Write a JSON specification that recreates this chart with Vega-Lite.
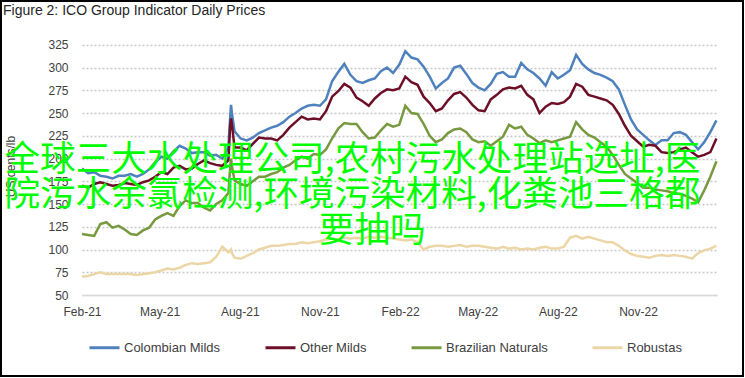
{
  "$schema": "https://vega.github.io/schema/vega-lite/v6.json",
  "width": 742,
  "height": 375,
  "autosize": {"type": "none"},
  "padding": {"left": 1, "top": 1, "right": 1, "bottom": 1},
  "background": "white",
  "title": {"text": "Figure 2: ICO Group Indicator Daily Prices", "anchor": "start", "frame": "group", "orient": "top", "offset": -28, "baseline": "alphabetic", "dx": 2, "font": "Liberation Sans", "fontSize": 14, "fontWeight": "normal", "color": "#262626"},
  "config": {"view": {"stroke": "#000000", "strokeWidth": 2}},
  "datasets": {
    "prices": [
      {"date":"2021-02-01","Colombian Milds":189,"Other Milds":170,"Brazilian Naturals":117,"Robustas":70},
      {"date":"2021-02-08","Colombian Milds":184,"Other Milds":168,"Brazilian Naturals":116,"Robustas":71},
      {"date":"2021-02-15","Colombian Milds":185,"Other Milds":172,"Brazilian Naturals":115,"Robustas":73},
      {"date":"2021-02-22","Colombian Milds":181,"Other Milds":174,"Brazilian Naturals":128,"Robustas":75},
      {"date":"2021-03-01","Colombian Milds":180,"Other Milds":172,"Brazilian Naturals":130,"Robustas":73},
      {"date":"2021-03-08","Colombian Milds":178,"Other Milds":170,"Brazilian Naturals":124,"Robustas":73},
      {"date":"2021-03-15","Colombian Milds":181,"Other Milds":171,"Brazilian Naturals":126,"Robustas":73},
      {"date":"2021-03-22","Colombian Milds":181,"Other Milds":173,"Brazilian Naturals":122,"Robustas":73},
      {"date":"2021-03-29","Colombian Milds":183,"Other Milds":172,"Brazilian Naturals":117,"Robustas":73},
      {"date":"2021-04-05","Colombian Milds":180,"Other Milds":171,"Brazilian Naturals":116,"Robustas":72},
      {"date":"2021-04-12","Colombian Milds":183,"Other Milds":174,"Brazilian Naturals":121,"Robustas":73},
      {"date":"2021-04-19","Colombian Milds":188,"Other Milds":176,"Brazilian Naturals":124,"Robustas":74},
      {"date":"2021-04-26","Colombian Milds":196,"Other Milds":180,"Brazilian Naturals":133,"Robustas":75},
      {"date":"2021-05-03","Colombian Milds":202,"Other Milds":185,"Brazilian Naturals":137,"Robustas":77},
      {"date":"2021-05-10","Colombian Milds":200,"Other Milds":183,"Brazilian Naturals":140,"Robustas":79},
      {"date":"2021-05-17","Colombian Milds":208,"Other Milds":190,"Brazilian Naturals":137,"Robustas":78},
      {"date":"2021-05-24","Colombian Milds":214,"Other Milds":192,"Brazilian Naturals":148,"Robustas":80},
      {"date":"2021-05-31","Colombian Milds":211,"Other Milds":188,"Brazilian Naturals":154,"Robustas":83},
      {"date":"2021-06-07","Colombian Milds":206,"Other Milds":189,"Brazilian Naturals":151,"Robustas":85},
      {"date":"2021-06-14","Colombian Milds":207,"Other Milds":194,"Brazilian Naturals":151,"Robustas":84},
      {"date":"2021-06-21","Colombian Milds":207,"Other Milds":198,"Brazilian Naturals":146,"Robustas":85},
      {"date":"2021-06-28","Colombian Milds":203,"Other Milds":195,"Brazilian Naturals":143,"Robustas":86},
      {"date":"2021-07-05","Colombian Milds":204,"Other Milds":193,"Brazilian Naturals":150,"Robustas":92},
      {"date":"2021-07-12","Colombian Milds":200,"Other Milds":192,"Brazilian Naturals":154,"Robustas":103},
      {"date":"2021-07-19","Colombian Milds":212,"Other Milds":198,"Brazilian Naturals":162,"Robustas":97},
      {"date":"2021-07-21","Colombian Milds":245,"Other Milds":236,"Brazilian Naturals":190,"Robustas":99},
      {"date":"2021-07-22","Colombian Milds":259,"Other Milds":244,"Brazilian Naturals":200,"Robustas":100},
      {"date":"2021-07-23","Colombian Milds":250,"Other Milds":238,"Brazilian Naturals":192,"Robustas":96},
      {"date":"2021-07-26","Colombian Milds":230,"Other Milds":212,"Brazilian Naturals":176,"Robustas":91},
      {"date":"2021-08-02","Colombian Milds":222,"Other Milds":212,"Brazilian Naturals":172,"Robustas":90},
      {"date":"2021-08-09","Colombian Milds":220,"Other Milds":209,"Brazilian Naturals":170,"Robustas":93},
      {"date":"2021-08-16","Colombian Milds":223,"Other Milds":216,"Brazilian Naturals":175,"Robustas":96},
      {"date":"2021-08-23","Colombian Milds":228,"Other Milds":223,"Brazilian Naturals":180,"Robustas":100},
      {"date":"2021-08-30","Colombian Milds":231,"Other Milds":222,"Brazilian Naturals":180,"Robustas":102},
      {"date":"2021-09-06","Colombian Milds":234,"Other Milds":222,"Brazilian Naturals":183,"Robustas":104},
      {"date":"2021-09-13","Colombian Milds":236,"Other Milds":220,"Brazilian Naturals":185,"Robustas":104},
      {"date":"2021-09-20","Colombian Milds":240,"Other Milds":226,"Brazilian Naturals":190,"Robustas":105},
      {"date":"2021-09-27","Colombian Milds":246,"Other Milds":234,"Brazilian Naturals":193,"Robustas":106},
      {"date":"2021-10-04","Colombian Milds":250,"Other Milds":240,"Brazilian Naturals":198,"Robustas":106},
      {"date":"2021-10-11","Colombian Milds":255,"Other Milds":246,"Brazilian Naturals":202,"Robustas":108},
      {"date":"2021-10-18","Colombian Milds":258,"Other Milds":243,"Brazilian Naturals":200,"Robustas":107},
      {"date":"2021-10-25","Colombian Milds":259,"Other Milds":244,"Brazilian Naturals":205,"Robustas":108},
      {"date":"2021-11-01","Colombian Milds":258,"Other Milds":243,"Brazilian Naturals":204,"Robustas":109},
      {"date":"2021-11-08","Colombian Milds":265,"Other Milds":252,"Brazilian Naturals":210,"Robustas":111},
      {"date":"2021-11-15","Colombian Milds":285,"Other Milds":268,"Brazilian Naturals":222,"Robustas":112},
      {"date":"2021-11-22","Colombian Milds":295,"Other Milds":274,"Brazilian Naturals":233,"Robustas":111},
      {"date":"2021-11-29","Colombian Milds":304,"Other Milds":282,"Brazilian Naturals":239,"Robustas":113},
      {"date":"2021-12-06","Colombian Milds":292,"Other Milds":278,"Brazilian Naturals":238,"Robustas":112},
      {"date":"2021-12-13","Colombian Milds":285,"Other Milds":267,"Brazilian Naturals":238,"Robustas":113},
      {"date":"2021-12-20","Colombian Milds":283,"Other Milds":263,"Brazilian Naturals":229,"Robustas":112},
      {"date":"2021-12-27","Colombian Milds":286,"Other Milds":258,"Brazilian Naturals":222,"Robustas":114},
      {"date":"2022-01-03","Colombian Milds":288,"Other Milds":266,"Brazilian Naturals":223,"Robustas":113},
      {"date":"2022-01-10","Colombian Milds":296,"Other Milds":272,"Brazilian Naturals":231,"Robustas":114},
      {"date":"2022-01-17","Colombian Milds":300,"Other Milds":276,"Brazilian Naturals":238,"Robustas":113},
      {"date":"2022-01-24","Colombian Milds":294,"Other Milds":275,"Brazilian Naturals":235,"Robustas":112},
      {"date":"2022-01-31","Colombian Milds":303,"Other Milds":277,"Brazilian Naturals":237,"Robustas":111},
      {"date":"2022-02-07","Colombian Milds":318,"Other Milds":290,"Brazilian Naturals":258,"Robustas":110},
      {"date":"2022-02-14","Colombian Milds":311,"Other Milds":284,"Brazilian Naturals":250,"Robustas":111},
      {"date":"2022-02-21","Colombian Milds":309,"Other Milds":281,"Brazilian Naturals":249,"Robustas":108},
      {"date":"2022-02-28","Colombian Milds":301,"Other Milds":268,"Brazilian Naturals":238,"Robustas":100},
      {"date":"2022-03-07","Colombian Milds":290,"Other Milds":261,"Brazilian Naturals":225,"Robustas":103},
      {"date":"2022-03-14","Colombian Milds":277,"Other Milds":252,"Brazilian Naturals":218,"Robustas":104},
      {"date":"2022-03-21","Colombian Milds":283,"Other Milds":255,"Brazilian Naturals":221,"Robustas":104},
      {"date":"2022-03-28","Colombian Milds":288,"Other Milds":264,"Brazilian Naturals":228,"Robustas":103},
      {"date":"2022-04-04","Colombian Milds":300,"Other Milds":271,"Brazilian Naturals":232,"Robustas":104},
      {"date":"2022-04-11","Colombian Milds":302,"Other Milds":273,"Brazilian Naturals":233,"Robustas":105},
      {"date":"2022-04-18","Colombian Milds":293,"Other Milds":267,"Brazilian Naturals":229,"Robustas":103},
      {"date":"2022-04-25","Colombian Milds":283,"Other Milds":259,"Brazilian Naturals":221,"Robustas":104},
      {"date":"2022-05-02","Colombian Milds":278,"Other Milds":253,"Brazilian Naturals":218,"Robustas":104},
      {"date":"2022-05-09","Colombian Milds":275,"Other Milds":252,"Brazilian Naturals":219,"Robustas":103},
      {"date":"2022-05-16","Colombian Milds":282,"Other Milds":265,"Brazilian Naturals":214,"Robustas":102},
      {"date":"2022-05-23","Colombian Milds":293,"Other Milds":270,"Brazilian Naturals":219,"Robustas":101},
      {"date":"2022-05-30","Colombian Milds":295,"Other Milds":276,"Brazilian Naturals":224,"Robustas":103},
      {"date":"2022-06-06","Colombian Milds":290,"Other Milds":278,"Brazilian Naturals":237,"Robustas":101},
      {"date":"2022-06-13","Colombian Milds":290,"Other Milds":277,"Brazilian Naturals":233,"Robustas":102},
      {"date":"2022-06-20","Colombian Milds":305,"Other Milds":280,"Brazilian Naturals":235,"Robustas":100},
      {"date":"2022-06-27","Colombian Milds":298,"Other Milds":270,"Brazilian Naturals":226,"Robustas":101},
      {"date":"2022-07-04","Colombian Milds":294,"Other Milds":265,"Brazilian Naturals":222,"Robustas":100},
      {"date":"2022-07-11","Colombian Milds":288,"Other Milds":250,"Brazilian Naturals":217,"Robustas":102},
      {"date":"2022-07-18","Colombian Milds":280,"Other Milds":257,"Brazilian Naturals":220,"Robustas":103},
      {"date":"2022-07-25","Colombian Milds":295,"Other Milds":261,"Brazilian Naturals":218,"Robustas":101},
      {"date":"2022-08-01","Colombian Milds":288,"Other Milds":260,"Brazilian Naturals":220,"Robustas":101},
      {"date":"2022-08-08","Colombian Milds":292,"Other Milds":262,"Brazilian Naturals":222,"Robustas":103},
      {"date":"2022-08-15","Colombian Milds":297,"Other Milds":268,"Brazilian Naturals":224,"Robustas":113},
      {"date":"2022-08-22","Colombian Milds":314,"Other Milds":282,"Brazilian Naturals":240,"Robustas":115},
      {"date":"2022-08-29","Colombian Milds":304,"Other Milds":279,"Brazilian Naturals":232,"Robustas":112},
      {"date":"2022-09-05","Colombian Milds":298,"Other Milds":270,"Brazilian Naturals":226,"Robustas":114},
      {"date":"2022-09-12","Colombian Milds":294,"Other Milds":268,"Brazilian Naturals":223,"Robustas":112},
      {"date":"2022-09-19","Colombian Milds":292,"Other Milds":266,"Brazilian Naturals":218,"Robustas":110},
      {"date":"2022-09-26","Colombian Milds":289,"Other Milds":264,"Brazilian Naturals":213,"Robustas":108},
      {"date":"2022-10-03","Colombian Milds":285,"Other Milds":259,"Brazilian Naturals":204,"Robustas":108},
      {"date":"2022-10-10","Colombian Milds":276,"Other Milds":249,"Brazilian Naturals":193,"Robustas":104},
      {"date":"2022-10-17","Colombian Milds":259,"Other Milds":236,"Brazilian Naturals":183,"Robustas":99},
      {"date":"2022-10-24","Colombian Milds":243,"Other Milds":225,"Brazilian Naturals":178,"Robustas":95},
      {"date":"2022-10-31","Colombian Milds":232,"Other Milds":219,"Brazilian Naturals":173,"Robustas":93},
      {"date":"2022-11-07","Colombian Milds":226,"Other Milds":213,"Brazilian Naturals":168,"Robustas":92},
      {"date":"2022-11-14","Colombian Milds":220,"Other Milds":215,"Brazilian Naturals":168,"Robustas":91},
      {"date":"2022-11-21","Colombian Milds":215,"Other Milds":214,"Brazilian Naturals":166,"Robustas":93},
      {"date":"2022-11-28","Colombian Milds":220,"Other Milds":207,"Brazilian Naturals":165,"Robustas":94},
      {"date":"2022-12-05","Colombian Milds":220,"Other Milds":206,"Brazilian Naturals":164,"Robustas":93},
      {"date":"2022-12-12","Colombian Milds":228,"Other Milds":207,"Brazilian Naturals":162,"Robustas":94},
      {"date":"2022-12-19","Colombian Milds":229,"Other Milds":210,"Brazilian Naturals":161,"Robustas":93},
      {"date":"2022-12-26","Colombian Milds":226,"Other Milds":212,"Brazilian Naturals":159,"Robustas":92},
      {"date":"2023-01-02","Colombian Milds":218,"Other Milds":207,"Brazilian Naturals":156,"Robustas":90},
      {"date":"2023-01-09","Colombian Milds":210,"Other Milds":202,"Brazilian Naturals":152,"Robustas":96},
      {"date":"2023-01-16","Colombian Milds":218,"Other Milds":204,"Brazilian Naturals":165,"Robustas":99},
      {"date":"2023-01-23","Colombian Milds":229,"Other Milds":207,"Brazilian Naturals":180,"Robustas":101},
      {"date":"2023-01-30","Colombian Milds":242,"Other Milds":222,"Brazilian Naturals":197,"Robustas":104}
    ]
  },
  "layer": [
    {
      "data": {"name": "prices"},
      "transform": [{"fold": ["Colombian Milds", "Other Milds", "Brazilian Naturals", "Robustas"], "as": ["series", "price"]}],
      "mark": {"type": "line", "strokeWidth": 2.5},
      "encoding": {
        "x": {
          "field": "date", "type": "temporal",
          "scale": {"type": "utc", "domain": [{"year": 2021, "month": 2, "date": 1, "utc": true}, {"year": 2023, "month": 1, "date": 31, "utc": true}], "range": [81, 716.3]},
          "axis": {
            "values": [
              {"year": 2021, "month": 2, "date": 1, "utc": true},
              {"year": 2021, "month": 5, "date": 1, "utc": true},
              {"year": 2021, "month": 8, "date": 1, "utc": true},
              {"year": 2021, "month": 11, "date": 1, "utc": true},
              {"year": 2022, "month": 2, "date": 1, "utc": true},
              {"year": 2022, "month": 5, "date": 1, "utc": true},
              {"year": 2022, "month": 8, "date": 1, "utc": true},
              {"year": 2022, "month": 11, "date": 1, "utc": true}
            ],
            "tickCount": 30,
            "format": "%b-%y", "title": null, "grid": false, "ticks": false,
            "domain": true, "domainColor": "#d9d9d9", "domainWidth": 1.5,
            "labelFont": "Liberation Sans", "labelFontSize": 12, "labelColor": "#404040",
            "labelPadding": 11, "offset": -81, "labelFlush": false, "labelOverlap": false
          }
        },
        "y": {
          "field": "price", "type": "quantitative",
          "scale": {"domain": [50, 325], "range": [294, 43.8], "nice": false, "zero": false},
          "axis": {
            "values": [50, 75, 100, 125, 150, 175, 200, 225, 250, 275, 300, 325],
            "tickCount": 30,
            "title": "US cents/lb", "titleFont": "Liberation Sans", "titleFontSize": 12, "titleFontWeight": "normal", "titleColor": "#404040",
            "titleX": -65, "titleY": 165, "titleAngle": -90, "titleAlign": "center", "titleBaseline": "bottom",
            "grid": true, "gridDash": [2, 2], "gridColor": "#c8c8c8", "gridWidth": 1.5,
            "ticks": false, "domain": false, "labelOverlap": false, "labelFlush": false, "labelBound": false,
            "labelFont": "Liberation Sans", "labelFontSize": 12, "labelColor": "#404040",
            "labelPadding": 14, "offset": -81
          }
        },
        "color": {
          "field": "series", "type": "nominal",
          "scale": {"domain": ["Colombian Milds", "Other Milds", "Brazilian Naturals", "Robustas"], "range": ["#4f81bd", "#6e0f28", "#77993f", "#ecd6a6"]},
          "legend": {
            "orient": "none", "legendX": 87, "legendY": 330, "direction": "horizontal", "title": null,
            "labelFont": "Liberation Sans", "labelFontSize": 13, "labelColor": "#404040",
            "symbolType": "stroke", "symbolSize": 900, "symbolStrokeWidth": 3,
            "labelOffset": 3, "columnPadding": 38, "padding": 0
          }
        }
      }
    },
    {
      "data": {"values": [{"t": "全球三大水处理公司,农村污水处理站选址,医"}]},
      "mark": {"type": "text", "align": "left", "baseline": "middle", "font": "Noto Sans CJK SC", "fontSize": 35.6, "color": "#00ff00"},
      "encoding": {
        "text": {"field": "t"},
        "x": {"datum": {"year": 2020, "month": 11, "date": 4, "utc": true}, "type": "temporal"},
        "y": {"datum": 198.5, "type": "quantitative"}
      }
    },
    {
      "data": {"values": [{"t": "院污水余氯检测,环境污染材料,化粪池三格都"}]},
      "mark": {"type": "text", "align": "left", "baseline": "middle", "font": "Noto Sans CJK SC", "fontSize": 35.6, "color": "#00ff00"},
      "encoding": {
        "text": {"field": "t"},
        "x": {"datum": {"year": 2020, "month": 11, "date": 4, "utc": true}, "type": "temporal"},
        "y": {"datum": 160, "type": "quantitative"}
      }
    },
    {
      "data": {"values": [{"t": "要抽吗"}]},
      "mark": {"type": "text", "align": "center", "baseline": "middle", "font": "Noto Sans CJK SC", "fontSize": 35.6, "color": "#00ff00"},
      "encoding": {
        "text": {"field": "t"},
        "x": {"datum": {"year": 2021, "month": 12, "date": 31, "utc": true}, "type": "temporal"},
        "y": {"datum": 120.8, "type": "quantitative"}
      }
    }
  ]
}
